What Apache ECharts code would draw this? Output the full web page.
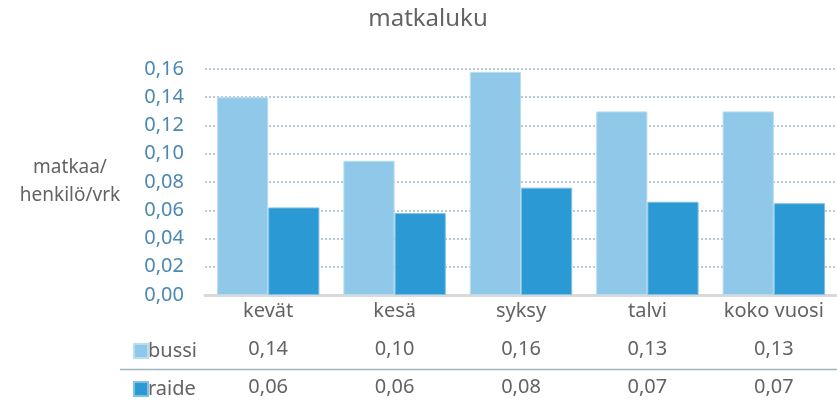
<!DOCTYPE html>
<html>
<head>
<meta charset="utf-8">
<script src="https://cdn.jsdelivr.net/npm/echarts@6/dist/echarts.min.js"></script>
<style>
  html, body { margin: 0; padding: 0; background: #fff; }
  #chart { width: 837px; height: 401px; }
</style>
</head>
<body>
<div id="chart"></div>
<script>
// Trips per person per day, by season
const categories = ['kevät', 'kesä', 'syksy', 'talvi', 'koko vuosi'];
const seriesNames = ['bussi', 'raide'];
const bussi = [0.140, 0.095, 0.158, 0.130, 0.130];
const raide = [0.062, 0.058, 0.076, 0.066, 0.065];
const yTicks = { min: 0, max: 0.16, interval: 0.02 };

const FONT = 'Noto Sans';
const GREY = '#636363';
const fmt = (v, d) => v.toFixed(d).replace('.', ',');

const chart = echarts.init(document.getElementById('chart'));

// value rows of the data table under the category labels
const tableAxis = (values, offset) => ({
  type: 'category',
  data: values.map(v => fmt(v, 2)),
  position: 'bottom',
  offset: offset,
  gridIndex: 0,
  axisLine: { show: false },
  axisTick: { show: false },
  splitLine: { show: false },
  axisLabel: { color: GREY, fontFamily: FONT, fontSize: 20, margin: 7, interval: 0 }
});

// one legend key per table row
const rowKey = (name, top) => ({
  data: [name],
  left: 128, top: top,
  itemWidth: 14, itemHeight: 14,
  icon: 'rect',
  textStyle: { color: GREY, fontFamily: FONT, fontSize: 20, padding: [0, 0, 0, -5] }
});

chart.setOption({
  animation: false,
  title: {
    text: 'matkaluku',
    left: 423, top: 2, textAlign: 'center',
    textStyle: { color: GREY, fontFamily: FONT, fontSize: 24, fontWeight: 'normal' }
  },
  legend: [rowKey(seriesNames[0], 336), rowKey(seriesNames[1], 374)],
  grid: { left: 205, right: 0, top: 69, bottom: 106 },
  xAxis: [
    {
      type: 'category',
      data: categories,
      axisLine: { lineStyle: { color: '#d9d9d9', width: 3 } },
      axisTick: { show: false },
      axisLabel: { color: GREY, fontFamily: FONT, fontSize: 20, margin: 6, interval: 0 }
    },
    tableAxis(bussi, 37),
    tableAxis(raide, 75)
  ],
  yAxis: {
    type: 'value',
    min: yTicks.min, max: yTicks.max, interval: yTicks.interval,
    name: 'matkaa/\nhenkilö/vrk',
    nameLocation: 'middle',
    nameRotate: 0,
    nameGap: 135,
    nameTextStyle: { color: GREY, fontFamily: FONT, fontSize: 19, lineHeight: 28, align: 'center' },
    axisLine: { show: false },
    axisTick: { show: false },
    axisLabel: {
      color: '#4b89b0', fontFamily: FONT, fontSize: 20, margin: 21,
      formatter: v => fmt(v, 2)
    },
    splitLine: { lineStyle: { color: '#9dbbd0', type: [2, 2], width: 1.5 } }
  },
  series: [
    {
      name: seriesNames[0], type: 'bar', data: bussi,
      barGap: '0%', barCategoryGap: '19%',
      itemStyle: { color: '#8fc8e8', borderColor: '#b9dcf0', borderWidth: 1 }
    },
    {
      name: seriesNames[1], type: 'bar', data: raide,
      itemStyle: { color: '#2b99d4', borderColor: '#7fc0e6', borderWidth: 1 }
    }
  ],
  graphic: [
    {
      type: 'line',
      shape: { x1: 120, y1: 369.5, x2: 837, y2: 369.5 },
      style: { stroke: '#9fb3c0', lineWidth: 1.5 },
      silent: true
    }
  ]
});
</script>
</body>
</html>
